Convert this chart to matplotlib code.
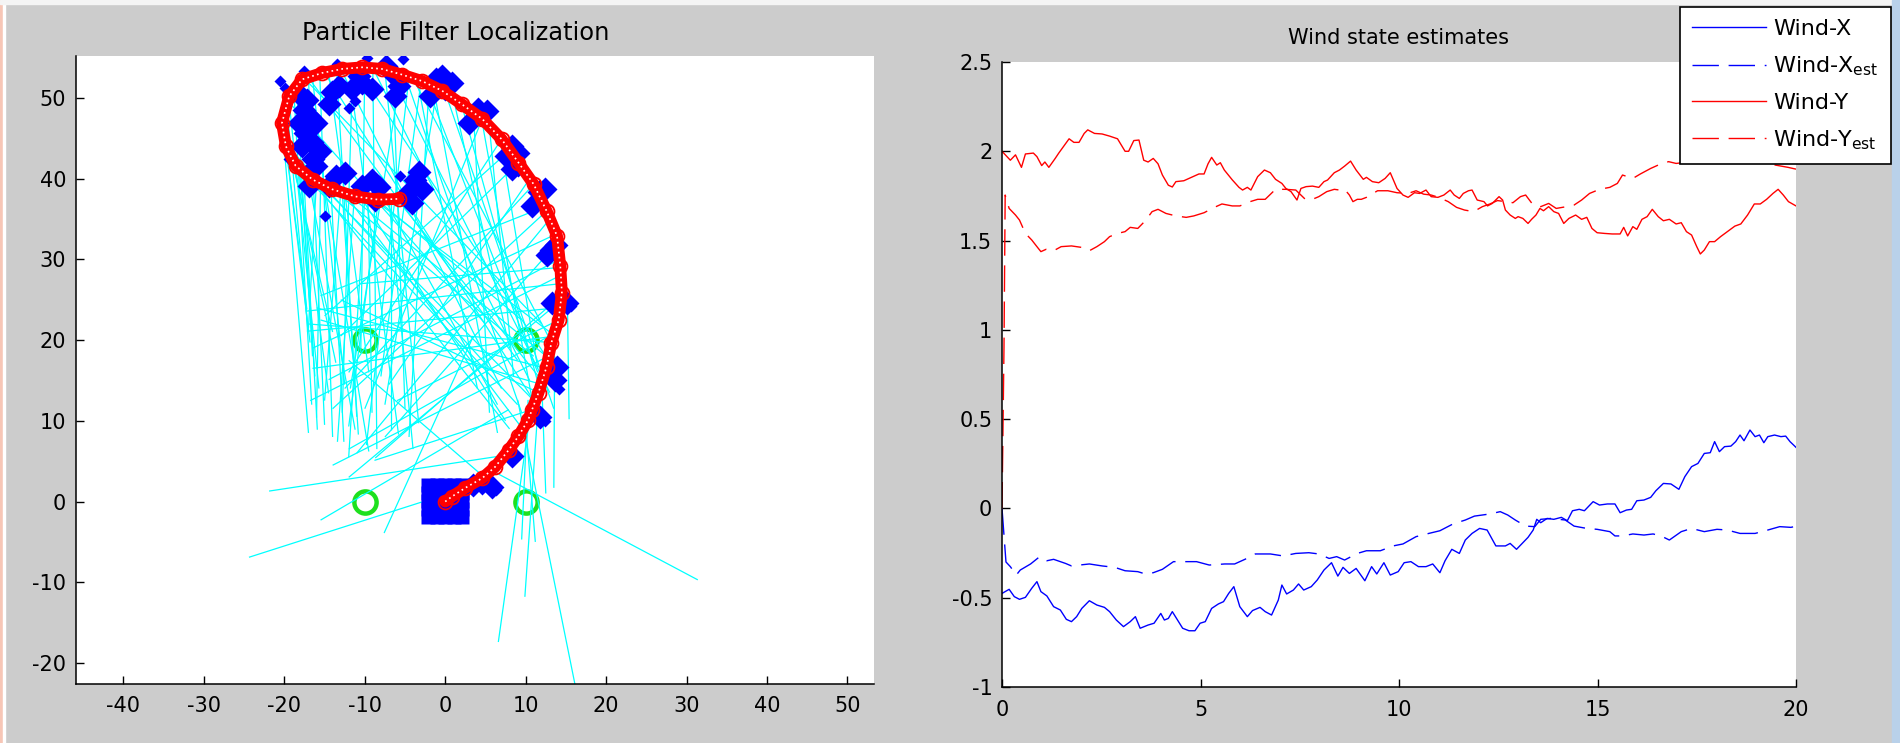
import matplotlib
matplotlib.use("Agg")
import matplotlib.pyplot as plt
from matplotlib.patches import Rectangle
from matplotlib.ticker import FuncFormatter

plt.rcParams['font.family'] = ['DejaVu Sans']
plt.rcParams['axes.unicode_minus'] = False
plt.rcParams['mathtext.fontset'] = 'dejavusans'
plt.rcParams['mathtext.default'] = 'regular'

# ---------------- data: left panel ----------------
beacons_x = [-10, 10, -10, 10]
beacons_y = [20, 20, 0, 0]

traj = [(0, 0), (0.8, 0.6), (2.5, 1.7), (4.6, 2.9), (6.2, 4.3), (7.9, 6.4), (9.1, 8.1),
        (10.3, 10.1), (10.8, 11.4), (11.6, 13.5), (12.6, 16.7), (13.2, 19.7), (14.1, 22.5),
        (14.5, 25.9), (14.3, 29.2), (13.9, 32.9), (12.6, 36.0), (11.0, 39.3), (9.1, 42.0),
        (7.0, 44.9), (4.6, 47.4), (2.1, 49.2), (-0.4, 50.9), (-2.9, 52.1), (-5.4, 52.9),
        (-7.9, 53.6), (-10.3, 53.8), (-12.8, 53.6), (-15.3, 53.1), (-17.8, 52.3),
        (-19.4, 50.2), (-20.3, 46.9), (-19.8, 44.0), (-18.6, 41.6), (-16.5, 39.9),
        (-14.1, 38.7), (-11.2, 37.8), (-8.3, 37.4), (-5.8, 37.5)]

rays = [
    (-20.2, 46.0, -17.0, 8.5), (-19.8, 44.0, -17.2, 23.8), (-19.0, 42.5, -13.6, 17.2),
    (-18.2, 41.0, -14.5, 13.4), (-17.0, 40.0, -11.2, 8.9), (-17.6, 40.5, -15.9, 8.9),
    (-15.5, 39.2, -16.0, 10.4), (-14.2, 38.7, -12.6, 7.4), (-12.8, 38.2, -10.8, 8.3),
    (-11.3, 37.8, -13.4, 7.4), (-9.6, 37.5, -9.1, 11.0), (-8.3, 37.4, -12.0, 9.3),
    (-6.8, 37.5, -6.8, 8.9), (-19.4, 49.5, -15.7, 14.0), (-18.5, 51.5, -16.5, 18.0),
    (-16.5, 52.6, -12.5, 14.5), (-14.5, 53.2, -9.5, 16.0), (-12.0, 53.6, -5.8, 8.3),
    (-10.0, 53.8, -10.5, 18.5), (-7.5, 53.5, -3.3, 9.7), (-5.5, 52.9, -11.8, 14.0),
    (-3.0, 52.1, -8.0, 15.5), (-1.0, 51.2, -7.5, 12.0), (-20.3, 47.5, -14.0, 21.0),
    (-16.0, 39.8, -17.0, 21.5),
    (-20.0, 45.5, -16.8, 19.7), (-19.6, 48.0, -17.1, 21.6), (-18.8, 50.5, -16.6, 12.0),
    (-17.0, 52.3, -15.0, 9.5), (-15.6, 53.0, -14.0, 8.0), (-13.5, 53.5, -11.0, 10.5),
    (-11.5, 53.7, -12.8, 11.0), (-9.0, 53.7, -8.5, 6.5), (-6.5, 53.2, -5.0, 11.5),
    (-4.5, 52.6, -9.8, 7.0), (-2.0, 51.7, -4.5, 8.0), (-18.0, 40.8, -16.2, 15.5),
    (-15.0, 39.0, -9.5, 6.2), (-13.0, 38.3, -15.0, 12.5), (-10.0, 37.6, -12.0, 5.5),
    (-7.0, 37.4, -4.0, 6.5),
    (-17.0, 52.5, 9.0, 17.5), (-15.0, 53.1, 11.0, 12.5), (-13.0, 53.6, 7.0, 14.0),
    (-11.0, 53.8, 12.5, 18.0), (-9.0, 53.7, 10.5, 15.0), (-7.0, 53.4, 13.0, 13.5),
    (-5.0, 52.8, 9.5, 11.0), (-2.5, 52.0, 11.5, 16.0), (0.0, 50.7, 13.5, 11.5),
    (2.0, 49.3, 12.0, 13.0), (4.5, 47.5, 10.8, 12.6), (6.8, 45.0, 11.5, 16.5),
    (-19.0, 49.0, 5.0, 22.0), (-18.0, 41.0, 9.0, 12.0), (-14.0, 38.7, 11.0, 18.0),
    (-10.5, 37.7, 7.5, 10.0), (-6.0, 37.5, 12.0, 15.0), (-12.0, 38.0, 13.8, 17.0),
    (-20.0, 44.5, 6.0, 16.0), (-8.5, 37.4, 9.5, 22.5), (-3.5, 52.3, 4.0, 14.0),
    (-1.5, 51.5, 6.5, 8.5), (1.0, 50.0, 8.0, 19.0), (3.5, 48.3, 5.5, 11.0),
    (5.5, 46.3, 8.5, 15.5),
    (-19.8, 44.0, 8.0, 9.0), (-16.0, 39.8, 12.5, 11.0), (-12.5, 38.1, 10.0, 8.5),
    (-9.0, 37.5, 13.0, 21.0), (-4.0, 52.4, 12.8, 20.5), (-17.5, 52.4, 12.0, 22.0),
    (-7.5, 37.4, 6.5, 12.0),
    (14.0, 24.0, -17.2, 21.1), (14.4, 27.0, -17.2, 23.6), (13.2, 19.7, -17.0, 22.0),
    (14.2, 30.0, -14.5, 15.1), (13.5, 33.0, -16.5, 19.0), (12.6, 36.0, -14.0, 11.5),
    (11.0, 39.3, -12.5, 14.0), (9.1, 42.0, -13.0, 20.5), (12.5, 16.5, -16.0, 24.0),
    (14.4, 25.5, -8.7, 5.4), (13.9, 32.0, -7.5, 8.0), (12.0, 14.5, -15.5, 22.5),
    (11.6, 13.5, -13.0, 25.0), (10.8, 11.4, -8.8, 5.1), (14.1, 22.5, -6.0, 12.5),
    (13.0, 35.0, -11.0, 6.0), (7.0, 44.9, -12.0, 16.0), (4.6, 47.4, -10.0, 11.5),
    (14.3, 29.0, -10.5, 27.0), (13.6, 20.5, -16.5, 16.5),
    (14.5, 25.0, -12.0, 3.0), (12.3, 36.5, -15.5, 25.5), (14.3, 28.0, -16.8, 12.5),
    (13.8, 21.0, -12.0, 6.5), (10.5, 40.0, -7.0, 14.5), (8.0, 43.5, -15.0, 23.0),
    (12.8, 18.0, -14.0, 4.5),
    (0.4, 1.0, -24.4, -6.9), (7.9, 5.8, -21.9, 1.3), (7.9, 11.4, -15.5, -2.3),
    (3.5, 20.5, -7.6, -3.9), (-12.0, 17.5, 6.5, 1.6), (5.5, 4.0, 31.4, -9.7),
    (6.6, -17.4, 10.8, 12.6), (9.9, -11.8, 11.6, 12.6), (16.3, -23.5, 9.0, 12.6),
    (9.5, -4.7, 10.3, 12.6), (13.5, 1.7, 13.6, 18.0), (10.0, 9.5, 11.2, -5.0),
    (15.2, 24.0, 15.4, 10.2), (12.0, 14.5, 12.5, 1.0),
]

particles_big = [
    (-17.2, 49.8), (-16.9, 47.8), (-17.4, 45.7), (-17.8, 44.0), (-16.5, 42.4), (-16.1, 41.6),
    (-18.2, 46.9), (-16.1, 46.9), (-17.5, 48.5), (-16.6, 44.5), (-18.3, 50.6), (-15.6, 43.4),
    (-14.1, 50.7), (-14.5, 49.2), (-13.2, 51.5),
    (-10.3, 51.9), (-11.6, 51.1), (-9.1, 51.1), (-10.7, 52.7),
    (-6.6, 53.1), (-5.8, 51.5), (-7.4, 54.0), (-6.2, 50.2),
    (-1.2, 52.3), (0.0, 51.1), (-1.9, 50.2), (0.8, 51.9), (-0.4, 52.7),
    (4.1, 48.6), (2.9, 46.9), (5.2, 48.4),
    (8.3, 44.0), (7.5, 42.8), (9.1, 43.2), (8.3, 41.2),
    (11.6, 38.3), (10.8, 36.6), (12.4, 38.7),
    (-13.6, 40.3), (-12.4, 40.7), (-14.5, 39.1), (-16.9, 39.1),
    (-9.1, 39.9), (-10.3, 39.1), (-8.7, 37.4), (-8.2, 39.0),
    (-3.7, 39.9), (-4.5, 38.3), (-2.9, 38.7), (-4.1, 37.0), (-3.2, 40.8),
    (13.2, 31.2), (12.6, 30.5), (13.8, 31.8), (14.1, 24.6), (15.1, 24.6), (13.3, 24.6),
    (13.9, 16.7), (13.7, 15.1), (11.8, 10.5), (8.3, 5.6), (4.6, 2.3), (5.8, 1.8), (3.5, 2.0),
]
particles_small = [
    (-20.5, 52.1), (-19.9, 51.2), (-17.6, 53.3), (-13.4, 54.2), (-9.7, 55.0), (-7.4, 54.4),
    (-5.2, 54.8), (-14.9, 35.4), (-11.2, 49.6), (-12.0, 48.8), (-5.6, 40.3), (-19.4, 42.4),
    (12.0, 37.0), (9.0, 41.0), (15.6, 24.2), (14.2, 14.0), (12.4, 10.0), (6.3, 1.4),
]
origin_cloud = [
    (-2.1, -1.95), (-1.05, -1.95), (0.0, -1.95), (1.05, -1.95), (2.1, -1.95),
    (-2.1, -0.9), (-1.05, -0.9), (0.0, -0.9), (1.05, -0.9), (2.1, -0.9),
    (-2.1, 0.1), (-1.05, 0.1), (0.0, 0.1), (1.05, 0.1), (2.1, 0.1),
    (-2.1, 1.1), (-1.05, 1.1), (0.0, 1.1), (1.05, 1.1), (2.1, 1.1),
    (-2.1, 2.1), (-1.05, 2.1), (0.0, 2.1), (1.05, 2.1), (2.1, 2.1),
]

# ---------------- data: right panel ----------------
wind_y = [(0.0, 2.0), (0.21, 1.95), (0.34, 1.98), (0.49, 1.91), (0.59, 1.985), (0.79, 1.99),
          (0.88, 1.97), (1.0, 1.92), (1.08, 1.94), (1.18, 1.91), (1.34, 1.96), (1.43, 1.99),
          (1.56, 2.03), (1.69, 2.07), (1.81, 2.05), (1.94, 2.05), (2.07, 2.10), (2.16, 2.12),
          (2.33, 2.10), (2.52, 2.097), (2.71, 2.085), (2.91, 2.07), (3.1, 2.0), (3.19, 2.0),
          (3.32, 2.06), (3.45, 2.063), (3.57, 1.95), (3.68, 1.94), (3.81, 1.96), (3.93, 1.93),
          (4.04, 1.867), (4.19, 1.81), (4.29, 1.80), (4.38, 1.83), (4.58, 1.835), (4.77, 1.854),
          (4.96, 1.873), (5.09, 1.873), (5.19, 1.93), (5.28, 1.966), (5.41, 1.923), (5.5, 1.936),
          (5.6, 1.895), (5.8, 1.84), (5.97, 1.798), (6.06, 1.783), (6.18, 1.798), (6.27, 1.783),
          (6.44, 1.858), (6.61, 1.895), (6.76, 1.88), (6.89, 1.843), (7.05, 1.82), (7.15, 1.792),
          (7.28, 1.774), (7.43, 1.727), (7.53, 1.792), (7.66, 1.802), (7.82, 1.805), (7.98, 1.798),
          (8.11, 1.83), (8.2, 1.839), (8.37, 1.88), (8.5, 1.895), (8.63, 1.917), (8.78, 1.945),
          (8.92, 1.895), (9.1, 1.843), (9.18, 1.854), (9.33, 1.83), (9.49, 1.824), (9.65, 1.848),
          (9.78, 1.88), (9.95, 1.792), (10.1, 1.755), (10.23, 1.742), (10.39, 1.768), (10.52, 1.764),
          (10.68, 1.783), (10.81, 1.746), (10.98, 1.742), (11.13, 1.755), (11.29, 1.783), (11.39, 1.755),
          (11.52, 1.736), (11.62, 1.764), (11.75, 1.779), (11.84, 1.783), (11.97, 1.727), (12.14, 1.718),
          (12.23, 1.694), (12.35, 1.708), (12.52, 1.746), (12.61, 1.727), (12.68, 1.671), (12.8, 1.643),
          (12.93, 1.624), (13.0, 1.634), (13.12, 1.624), (13.25, 1.596), (13.34, 1.619), (13.45, 1.643),
          (13.55, 1.68), (13.64, 1.667), (13.77, 1.69), (13.9, 1.662), (14.02, 1.652), (14.15, 1.596),
          (14.28, 1.624), (14.45, 1.643), (14.6, 1.619), (14.73, 1.63), (14.86, 1.568), (14.99, 1.544),
          (15.18, 1.54), (15.37, 1.537), (15.57, 1.537), (15.66, 1.574), (15.76, 1.526), (15.89, 1.578),
          (15.99, 1.563), (16.12, 1.619), (16.25, 1.634), (16.38, 1.675), (16.53, 1.634), (16.66, 1.611),
          (16.81, 1.619), (16.98, 1.593), (17.11, 1.6), (17.24, 1.55), (17.37, 1.531), (17.5, 1.466),
          (17.59, 1.425), (17.69, 1.447), (17.82, 1.494), (17.95, 1.494), (18.1, 1.522), (18.27, 1.55),
          (18.46, 1.581), (18.61, 1.593), (18.78, 1.643), (18.95, 1.705), (19.1, 1.705), (19.26, 1.731),
          (19.42, 1.764), (19.55, 1.787), (19.68, 1.755), (19.81, 1.718), (20.0, 1.694)]

wind_y_est = [(0.0, 0.0), (0.05, 0.9), (0.08, 1.755), (0.18, 1.68), (0.34, 1.643), (0.44, 1.615),
              (0.59, 1.54), (0.75, 1.503), (0.88, 1.466), (0.98, 1.438), (1.11, 1.451), (1.3, 1.443),
              (1.49, 1.466), (1.75, 1.47), (2.0, 1.462), (2.2, 1.443), (2.39, 1.466), (2.58, 1.494),
              (2.71, 1.522), (2.91, 1.54), (3.1, 1.55), (3.23, 1.574), (3.42, 1.568), (3.61, 1.611),
              (3.78, 1.662), (3.93, 1.675), (4.13, 1.652), (4.38, 1.638), (4.64, 1.63), (4.83, 1.638),
              (5.09, 1.656), (5.35, 1.686), (5.54, 1.705), (5.8, 1.694), (5.99, 1.694), (6.25, 1.718),
              (6.44, 1.731), (6.63, 1.731), (6.89, 1.787), (7.15, 1.787), (7.4, 1.783), (7.64, 1.731),
              (7.82, 1.731), (7.98, 1.746), (8.18, 1.774), (8.37, 1.787), (8.5, 1.783), (8.63, 1.787),
              (8.75, 1.755), (8.84, 1.718), (8.95, 1.731), (9.05, 1.731), (9.18, 1.742), (9.46, 1.779),
              (9.72, 1.779), (9.95, 1.768), (10.23, 1.764), (10.43, 1.779), (10.62, 1.76), (10.81, 1.755),
              (11.0, 1.742), (11.24, 1.718), (11.45, 1.686), (11.65, 1.671), (11.88, 1.662), (12.1, 1.69),
              (12.29, 1.705), (12.48, 1.724), (12.68, 1.718), (12.87, 1.712), (13.06, 1.746), (13.19, 1.755),
              (13.38, 1.699), (13.57, 1.69), (13.77, 1.708), (13.96, 1.68), (14.22, 1.69), (14.41, 1.699),
              (14.6, 1.727), (14.8, 1.764), (15.05, 1.787), (15.31, 1.798), (15.5, 1.82), (15.63, 1.867),
              (15.89, 1.848), (16.08, 1.873), (16.34, 1.904), (16.53, 1.923), (16.79, 1.942), (16.98, 1.932),
              (17.3, 1.94), (17.8, 1.95), (18.3, 1.94), (18.8, 1.95), (19.3, 1.93), (19.8, 1.91), (20.0, 1.9)]

wind_x = [(0.0, -0.476), (0.18, -0.453), (0.31, -0.494), (0.44, -0.509), (0.59, -0.498), (0.75, -0.447),
          (0.88, -0.41), (0.98, -0.466), (1.13, -0.49), (1.3, -0.55), (1.47, -0.569), (1.62, -0.621),
          (1.75, -0.634), (1.88, -0.606), (2.01, -0.56), (2.2, -0.517), (2.39, -0.541), (2.58, -0.554),
          (2.71, -0.578), (2.88, -0.625), (3.06, -0.662), (3.23, -0.634), (3.36, -0.606), (3.48, -0.671),
          (3.68, -0.653), (3.83, -0.643), (4.0, -0.588), (4.09, -0.625), (4.19, -0.616), (4.29, -0.578),
          (4.42, -0.625), (4.55, -0.671), (4.71, -0.685), (4.86, -0.685), (4.99, -0.643), (5.12, -0.634),
          (5.28, -0.56), (5.45, -0.535), (5.58, -0.522), (5.71, -0.476), (5.84, -0.438), (5.99, -0.55),
          (6.18, -0.606), (6.31, -0.572), (6.5, -0.554), (6.63, -0.578), (6.79, -0.597), (6.96, -0.513),
          (7.05, -0.429), (7.17, -0.479), (7.34, -0.457), (7.47, -0.423), (7.6, -0.457), (7.79, -0.438),
          (7.94, -0.401), (8.11, -0.345), (8.3, -0.304), (8.46, -0.379), (8.59, -0.33), (8.75, -0.364),
          (8.92, -0.336), (9.14, -0.405), (9.31, -0.326), (9.44, -0.367), (9.62, -0.304), (9.78, -0.373),
          (9.98, -0.354), (10.13, -0.304), (10.3, -0.298), (10.49, -0.326), (10.68, -0.326), (10.85, -0.311),
          (11.03, -0.36), (11.16, -0.293), (11.33, -0.229), (11.52, -0.252), (11.67, -0.177), (11.84, -0.14),
          (12.03, -0.112), (12.22, -0.121), (12.44, -0.21), (12.68, -0.21), (12.8, -0.196), (12.96, -0.229),
          (13.09, -0.199), (13.25, -0.162), (13.38, -0.121), (13.47, -0.061), (13.57, -0.08), (13.73, -0.056),
          (13.9, -0.061), (14.09, -0.05), (14.24, -0.069), (14.37, -0.013), (14.54, -0.005), (14.67, -0.013),
          (14.89, 0.038), (15.05, 0.019), (15.25, 0.025), (15.44, 0.025), (15.57, -0.024), (15.73, -0.009),
          (15.86, -0.005), (15.99, 0.043), (16.17, 0.047), (16.34, 0.062), (16.47, 0.099), (16.66, 0.14),
          (16.85, 0.137), (17.05, 0.107), (17.2, 0.178), (17.37, 0.234), (17.53, 0.252), (17.69, 0.308),
          (17.84, 0.312), (17.95, 0.374), (18.07, 0.318), (18.2, 0.346), (18.36, 0.349), (18.48, 0.374),
          (18.59, 0.411), (18.69, 0.379), (18.84, 0.439), (18.97, 0.402), (19.08, 0.411), (19.19, 0.368),
          (19.29, 0.402), (19.46, 0.411), (19.62, 0.402), (19.74, 0.405), (19.85, 0.374), (20.0, 0.342)]

wind_x_est = [(0.0, 0.0), (0.05, -0.15), (0.1, -0.3), (0.21, -0.326), (0.36, -0.373), (0.46, -0.345),
              (0.72, -0.311), (0.95, -0.27), (1.13, -0.293), (1.3, -0.285), (1.6, -0.308), (1.75, -0.322),
              (2.2, -0.311), (2.52, -0.322), (2.84, -0.33), (3.1, -0.349), (3.42, -0.354), (3.61, -0.367),
              (3.81, -0.36), (4.04, -0.341), (4.32, -0.298), (4.9, -0.298), (5.22, -0.317), (5.61, -0.311),
              (5.86, -0.311), (6.12, -0.285), (6.38, -0.255), (6.76, -0.255), (7.08, -0.266), (7.4, -0.252),
              (7.73, -0.248), (7.98, -0.255), (8.24, -0.28), (8.43, -0.27), (8.63, -0.289), (8.95, -0.252),
              (9.18, -0.237), (9.53, -0.237), (9.85, -0.21), (10.1, -0.199), (10.43, -0.158), (10.75, -0.14),
              (11.03, -0.125), (11.36, -0.087), (11.67, -0.065), (11.9, -0.043), (12.29, -0.031), (12.55, -0.018),
              (12.74, -0.037), (12.93, -0.065), (13.19, -0.099), (13.42, -0.102), (13.57, -0.061), (13.83, -0.056),
              (14.19, -0.065), (14.41, -0.099), (14.73, -0.112), (14.99, -0.117), (15.31, -0.13), (15.44, -0.154),
              (15.63, -0.154), (15.89, -0.143), (16.17, -0.149), (16.4, -0.143), (16.6, -0.154), (16.81, -0.177),
              (17.11, -0.13), (17.37, -0.112), (17.69, -0.13), (18.01, -0.117), (18.27, -0.121), (18.59, -0.14),
              (18.97, -0.14), (19.29, -0.121), (19.59, -0.102), (19.87, -0.106), (20.0, -0.1)]

left_xticks = [-40, -30, -20, -10, 0, 10, 20, 30, 40, 50]
left_yticks = [-20, -10, 0, 10, 20, 30, 40, 50]
right_xticks = [0, 5, 10, 15, 20]
right_yticks = [-1, -0.5, 0, 0.5, 1, 1.5, 2, 2.5]
legend_labels = ['Wind-X', 'Wind-X$_{est}$', 'Wind-Y', 'Wind-Y$_{est}$']

W, H = 1900, 743
fig = plt.figure(figsize=(W / 100, H / 100), dpi=100, facecolor='#cccccc')

# screenshot borders
fig.patches.append(Rectangle((0, 0), 3 / W, 1, transform=fig.transFigure, color='#f7c6b6', zorder=0))
fig.patches.append(Rectangle((3 / W, 0), 2 / W, 1, transform=fig.transFigure, color='#ffffff', zorder=0))
fig.patches.append(Rectangle((0, 1 - 4 / H), 1, 4 / H, transform=fig.transFigure, color='#f4f4f4', zorder=0))
fig.patches.append(Rectangle((1 - 8 / W, 0), 8 / W, 1, transform=fig.transFigure, color='#b9d1ea', zorder=0))

TICK_FS = 15


def style_axes(ax):
    for s in ['top', 'right']:
        ax.spines[s].set_visible(False)
    for s in ['left', 'bottom']:
        ax.spines[s].set_linewidth(1.1)
        ax.spines[s].set_color('black')
    ax.tick_params(direction='in', length=6, width=1.0, labelsize=TICK_FS, colors='black')
    ax.tick_params(axis='x', pad=9)
    ax.tick_params(axis='y', pad=7)


# ---------------- left axes ----------------
ax1 = fig.add_axes([76 / W, 1 - 684 / H, 798 / W, 628 / H])
ax1.set_facecolor('white')
ax1.plot(beacons_x, beacons_y, 'o', ms=16, mfc='none', mec='#1ee01e', mew=3.2, zorder=1)
for x0, y0, x1, y1 in rays:
    ax1.plot([x0, x1], [y0, y1], color='#00ffff', lw=0.9, zorder=2, solid_capstyle='butt')
ax1.plot([p[0] for p in origin_cloud], [p[1] for p in origin_cloud], 's', ms=9.5,
         color='#0000ff', mec='none', zorder=3)
ax1.plot([p[0] for p in particles_big], [p[1] for p in particles_big], 'D', ms=12.5,
         color='#0000ff', mec='none', zorder=3)
ax1.plot([p[0] for p in particles_small], [p[1] for p in particles_small], 'D', ms=6,
         color='#0000ff', mec='none', zorder=3)
tx = [p[0] for p in traj]
ty = [p[1] for p in traj]
ax1.plot(tx, ty, '-', color='#ff0000', lw=8.5, solid_capstyle='round', solid_joinstyle='round', zorder=4)
ax1.plot(tx, ty, 'o', ms=10, mfc='none', mec='#ff0000', mew=1.3, zorder=4)
ax1.plot(tx, ty, linestyle=(0, (1, 2)), color='white', lw=1.2, zorder=5)
ax1.set_xlim(-45.9, 53.3)
ax1.set_ylim(-22.6, 55.2)
ax1.set_xticks(left_xticks)
ax1.set_yticks(left_yticks)
style_axes(ax1)
fig.text(456 / W, 1 - 33 / H, 'Particle Filter Localization', ha='center', va='center', fontsize=17.4)

# ---------------- right axes ----------------
ax2 = fig.add_axes([1002 / W, 1 - 687 / H, 794 / W, 625 / H])
ax2.set_facecolor('white')
dash = (0, (19, 7))
l1, = ax2.plot([p[0] for p in wind_x], [p[1] for p in wind_x], '-', color='#0000ff', lw=1.0)
l2, = ax2.plot([p[0] for p in wind_x_est], [p[1] for p in wind_x_est], color='#0000ff', lw=1.0, linestyle=dash)
l3, = ax2.plot([p[0] for p in wind_y], [p[1] for p in wind_y], '-', color='#ff0000', lw=1.0)
l4, = ax2.plot([p[0] for p in wind_y_est], [p[1] for p in wind_y_est], color='#ff0000', lw=1.0, linestyle=dash)
ax2.set_xlim(0, 20)
ax2.set_ylim(-1, 2.5)
ax2.set_xticks(right_xticks)
ax2.set_yticks(right_yticks)
ax2.yaxis.set_major_formatter(FuncFormatter(lambda v, p: '%g' % v))
style_axes(ax2)
fig.text(1398 / W, 1 - 38 / H, 'Wind state estimates', ha='center', va='center', fontsize=15)

leg = fig.legend([l1, l2, l3, l4], legend_labels, loc='upper left',
                 bbox_to_anchor=(1680 / W, 1 - 7 / H), bbox_transform=fig.transFigure,
                 fontsize=16, frameon=True, fancybox=False, framealpha=1, edgecolor='black',
                 handlelength=3.3, handletextpad=0.35, borderpad=0.55, labelspacing=0.68,
                 borderaxespad=0)
leg.get_frame().set_linewidth(1.2)

fig.savefig('out.png', dpi=100, facecolor=fig.get_facecolor())
